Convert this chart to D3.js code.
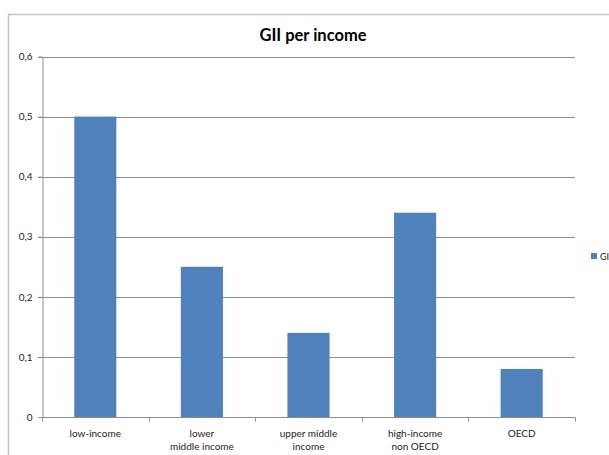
<!DOCTYPE html>
<html>
<head>
<meta charset="utf-8">
<script src="https://cdn.jsdelivr.net/npm/d3@7"></script>
<style>
  body { margin: 0; background: #fff; }
  svg { display: block; font-family: Lato, "Open Sans", sans-serif; }
</style>
</head>
<body>
<div class="svg-container"></div>
<script>
// chart data
const categories = ['low-income', 'lower\nmiddle income', 'upper middle\nincome', 'high-income\nnon OECD', 'OECD'];
const giiValues = [0.5, 0.25, 0.14, 0.34, 0.08];
const yTicks = [0, 0.1, 0.2, 0.3, 0.4, 0.5, 0.6];
const seriesName = 'GII';

const width = 609, height = 455;
const margin = { top: 56.5, right: 34, bottom: 38, left: 42 };

const svg = d3.select('.svg-container')
    .append('svg')
    .attr('width', width)
    .attr('height', height);

// outer frame (cut off at right and bottom like the original)
svg.append('rect')
    .attr('x', 8.5).attr('y', 14.5)
    .attr('width', 620).attr('height', 460)
    .attr('fill', 'none')
    .attr('stroke', '#c4c4c4')
    .attr('stroke-width', 1.5);

const xScale = d3.scaleBand()
    .domain(categories)
    .range([margin.left, width - margin.right])
    .padding(0);

const yScale = d3.scaleLinear()
    .domain([0, 0.6])
    .range([height - margin.bottom, margin.top]);

const fmt = d => d === 0 ? '0' : d3.format('.1f')(d).replace('.', ',');

// gridlines
svg.append('g')
    .selectAll('line')
    .data(yTicks.filter(d => d > 0))
    .enter()
    .append('line')
    .attr('x1', margin.left - 4)
    .attr('x2', width - margin.right)
    .attr('y1', d => Math.round(yScale(d)) + 0.5)
    .attr('y2', d => Math.round(yScale(d)) + 0.5)
    .attr('stroke', '#8c8c8c')
    .attr('stroke-width', 1);

// y axis
const yAxis = svg.append('g')
    .attr('transform', `translate(${margin.left + 0.5},0)`)
    .call(d3.axisLeft(yScale).tickValues(yTicks).tickFormat(fmt).tickSize(4).tickSizeOuter(0));
yAxis.select('.domain').attr('stroke', '#8c8c8c');
yAxis.selectAll('.tick line').attr('stroke', '#8c8c8c');
yAxis.selectAll('.tick text')
    .attr('x', -10)
    .attr('font-size', 10)
    .attr('font-family', 'Lato, "Open Sans", sans-serif')
    .attr('fill', '#222');

// bars
const barW = xScale.bandwidth() * 0.395;
svg.append('g')
    .selectAll('rect')
    .data(categories.map((c, i) => ({ name: c, value: giiValues[i] })))
    .enter()
    .append('rect')
    .attr('x', d => xScale(d.name) + (xScale.bandwidth() - barW) / 2)
    .attr('y', d => yScale(d.value))
    .attr('width', barW)
    .attr('height', d => yScale(0) - yScale(d.value))
    .attr('fill', '#4f81bd');

// x axis
const x0 = Math.round(yScale(0)) + 0.5;
svg.append('line')
    .attr('x1', margin.left).attr('x2', width - margin.right)
    .attr('y1', x0).attr('y2', x0)
    .attr('stroke', '#8c8c8c');
const bounds = categories.map(c => xScale(c)).concat([xScale.range()[1]]);
svg.append('g')
    .selectAll('line')
    .data(bounds)
    .enter()
    .append('line')
    .attr('x1', d => Math.round(d) + 0.5)
    .attr('x2', d => Math.round(d) + 0.5)
    .attr('y1', x0)
    .attr('y2', x0 + 4)
    .attr('stroke', '#8c8c8c');

const labels = svg.append('g')
    .selectAll('text')
    .data(categories)
    .enter()
    .append('text')
    .attr('text-anchor', 'middle')
    .attr('font-size', 10)
    .attr('fill', '#222');
labels.each(function (d) {
    const lines = d.split('\n');
    d3.select(this).selectAll('tspan')
        .data(lines)
        .enter()
        .append('tspan')
        .attr('x', xScale(d) + xScale.bandwidth() / 2)
        .attr('y', (l, i) => 437 + i * 13)
        .text(l => l);
});

// title
svg.append('text')
    .attr('x', 313)
    .attr('y', 41)
    .attr('text-anchor', 'middle')
    .attr('font-size', 16.5)
    .attr('font-weight', 'bold')
    .attr('fill', '#000')
    .text('GII per income');

// legend
svg.append('rect')
    .attr('x', 591).attr('y', 253)
    .attr('width', 6).attr('height', 6)
    .attr('fill', '#4f81bd');
svg.append('text')
    .attr('x', 600).attr('y', 259.5)
    .attr('font-size', 9)
    .attr('fill', '#222')
    .text(seriesName);
</script>
</body>
</html>
